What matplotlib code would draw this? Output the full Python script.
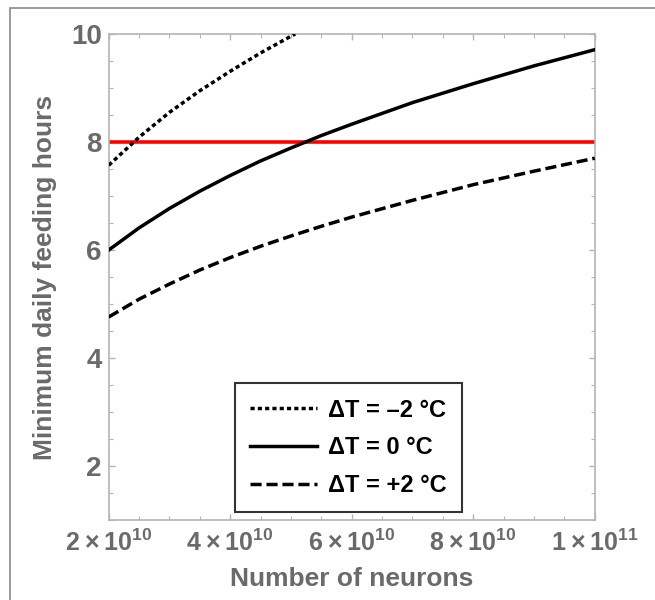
import matplotlib
matplotlib.use("Agg")
import matplotlib.pyplot as plt
from matplotlib.patches import Rectangle

plt.rcParams['font.family'] = ['Liberation Sans', 'DejaVu Sans']
plt.rcParams['font.weight'] = 'bold'
plt.rcParams['mathtext.fontset'] = 'custom'
plt.rcParams['mathtext.rm'] = 'Liberation Sans:bold'
plt.rcParams['mathtext.bf'] = 'Liberation Sans:bold'
plt.rcParams['mathtext.default'] = 'rm'

# number of neurons (units of 1e10) and values
neurons = [2, 2.5, 3, 3.5, 4, 4.5, 5, 5.5, 6, 7, 8, 9, 10]
hours_0 = [6.00, 6.41, 6.77, 7.09, 7.38, 7.65, 7.89, 8.12, 8.33, 8.73, 9.08, 9.41, 9.71]
hours_plus2 = [4.76, 5.09, 5.37, 5.63, 5.86, 6.07, 6.26, 6.44, 6.61, 6.92, 7.21, 7.46, 7.70]
neurons_minus2 = [2, 2.5, 3, 3.5, 4, 4.5, 5, 5.07]
hours_minus2 = [7.57, 8.09, 8.55, 8.95, 9.31, 9.65, 9.96, 10.0]
threshold = 8

labels = ['ΔT = \u20132 °C', 'ΔT = 0 °C', 'ΔT = +2 °C']
xticks = [2e10, 4e10, 6e10, 8e10, 1e11]
xticklabels = [r'$2\times10^{10}$', r'$4\times10^{10}$', r'$6\times10^{10}$',
               r'$8\times10^{10}$', r'$1\times10^{11}$']
yticks = [2, 4, 6, 8, 10]

grey = '#6a6a6a'
spine = '#b4b4b4'

fig = plt.figure(figsize=(6.55, 6.0), dpi=100)
ax = fig.add_axes([0.166, 0.1333, 0.742, 0.81])

ax.axhline(threshold, color='#ff0000', lw=2.6, zorder=2)
ax.plot([n * 1e10 for n in neurons_minus2], hours_minus2, color='black', lw=2.5,
        dashes=(1.2, 0.9), label=labels[0], zorder=3)
ax.plot([n * 1e10 for n in neurons], hours_0, color='black', lw=2.5,
        label=labels[1], zorder=3)
ax.plot([n * 1e10 for n in neurons], hours_plus2, color='black', lw=2.5,
        dashes=(3.2, 1.4), label=labels[2], zorder=3)

ax.set_xlim(2e10, 1e11)
ax.set_ylim(1, 10)
ax.set_xticks(xticks)
ax.set_xticklabels(xticklabels)
ax.set_yticks(yticks)
ax.set_xticks([2e10 + i * 0.5e10 for i in range(17)], minor=True)
ax.set_yticks([1 + i * 0.5 for i in range(19)], minor=True)

for s in ax.spines.values():
    s.set_color(spine)
    s.set_linewidth(1.2)
ax.tick_params(which='both', direction='in', top=True, right=True, color=spine)
ax.tick_params(which='major', length=4, width=1)
ax.tick_params(which='minor', length=3, width=0.8)
ax.tick_params(axis='x', labelsize=18, labelcolor=grey, pad=7)
ax.tick_params(axis='y', labelsize=20, labelcolor=grey, pad=5)
for t in ax.get_yticklabels():
    t.set_fontweight('bold')

ax.set_xlabel('Number of neurons', fontsize=19, color=grey, fontweight='bold', labelpad=8)
ax.set_ylabel('Minimum daily feeding hours', fontsize=19, color=grey, fontweight='bold', labelpad=10)

leg = ax.legend(loc='lower left', bbox_to_anchor=(0.26, 0.016), fontsize=17,
                frameon=True, fancybox=False, edgecolor='black', handlelength=2.8,
                handletextpad=0.5, labelspacing=0.62, borderpad=0.65, borderaxespad=0)
leg.get_frame().set_linewidth(1.5)
for t in leg.get_texts():
    t.set_fontweight('bold')

fig.patches.append(Rectangle((10 / 655, -0.1), 1.2, 1.1 - 8 / 600, transform=fig.transFigure,
                             fill=False, edgecolor='#8a8a8a', lw=1.2))

fig.savefig('out.png', dpi=100)
